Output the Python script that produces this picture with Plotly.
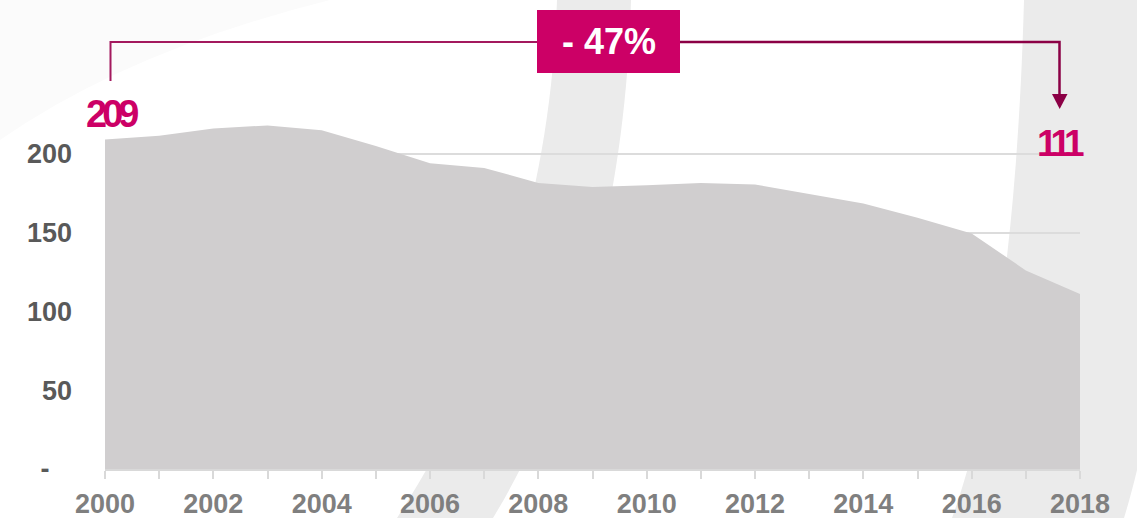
import plotly.graph_objects as go

# ---------------- data ----------------
years = list(range(2000, 2019))
values = [209, 211.5, 216, 218, 215, 205, 194, 191, 181.5, 179, 180, 181.5,
          180.5, 174.5, 168.5, 159.5, 149.5, 126, 111]
y_tickvals = [0, 50, 100, 150, 200]
y_ticktext = ["-\u00a0\u00a0\u00a0", "50", "100", "150", "200"]
x_tickvals = list(range(2000, 2019, 2))
start_label = "209"
end_label = "111"
change_label = "- 47%"

# ---------------- layout geometry ----------------
W, H = 1137, 518
L, R, T, B = 105, 57, 75, 49
PW, PH = W - L - R, H - T - B


def px(x):
    return (x - L) / PW


def py(y):
    return (H - B - y) / PH


MAGENTA = "#cc0066"
DARK = "#8b0045"
FONT = "Arial, Liberation Sans, sans-serif"

fig = go.Figure()
fig.add_trace(go.Scatter(
    x=years, y=values, mode="lines", fill="tozeroy",
    line=dict(width=0, color="#d0cecf"), fillcolor="#d0cecf",
    hoverinfo="skip", showlegend=False,
))

shapes = []
# decorative background watermark
shapes.append(dict(type="path", xref="paper", yref="paper", layer="below",
                   path=f"M{px(0)},{py(0)} L{px(330)},{py(0)} Q{px(130)},{py(50)} {px(0)},{py(140)} Z",
                   fillcolor="#fbfbfb", line=dict(width=0)))
shapes.append(dict(type="path", xref="paper", yref="paper", layer="below",
                   path=(f"M{px(557)},{py(0)} C{px(550)},{py(220)} {px(480)},{py(390)} {px(397)},{py(518)} "
                         f"L{px(493)},{py(518)} C{px(570)},{py(390)} {px(625)},{py(220)} {px(631)},{py(0)} Z"),
                   fillcolor="#ebebeb", line=dict(width=0)))
shapes.append(dict(type="path", xref="paper", yref="paper", layer="below",
                   path=(f"M{px(1024)},{py(0)} C{px(1018)},{py(220)} {px(995)},{py(400)} {px(952)},{py(518)} "
                         f"L{px(1124)},{py(518)} C{px(1160)},{py(400)} {px(1180)},{py(220)} {px(1190)},{py(0)} Z"),
                   fillcolor="#ebebeb", line=dict(width=0)))
# bracket
shapes.append(dict(type="path", xref="paper", yref="paper",
                   path=f"M{px(110.5)},{py(81)} L{px(110.5)},{py(42)} L{px(540)},{py(42)}",
                   line=dict(color="#a3195e", width=2)))
shapes.append(dict(type="path", xref="paper", yref="paper",
                   path=f"M{px(678)},{py(42)} L{px(1059.5)},{py(42)} L{px(1059.5)},{py(96)}",
                   line=dict(color=DARK, width=2.5)))
shapes.append(dict(type="path", xref="paper", yref="paper",
                   path=f"M{px(1052)},{py(94)} L{px(1067.5)},{py(94)} L{px(1059.7)},{py(109)} Z",
                   fillcolor=DARK, line=dict(width=0)))
# box
shapes.append(dict(type="rect", xref="paper", yref="paper",
                   x0=px(537), x1=px(680), y0=py(73), y1=py(10),
                   fillcolor=MAGENTA, line=dict(width=0)))

annotations = [
    dict(xref="paper", yref="paper", x=px(609), y=py(42), xanchor="center", yanchor="middle",
         text=f"<b>{change_label}</b>", showarrow=False,
         font=dict(family=FONT, size=36, color="white")),
    dict(xref="paper", yref="paper", x=px(112), y=py(114), xanchor="center", yanchor="middle",
         text=f"<b><span style='letter-spacing:-5px'>{start_label}</span></b>", showarrow=False,
         font=dict(family=FONT, size=38, color=MAGENTA)),
    dict(xref="paper", yref="paper", x=px(1060), y=py(143), xanchor="center", yanchor="middle",
         text=f"<b><span style='letter-spacing:-5px'>{end_label}</span></b>", showarrow=False,
         font=dict(family=FONT, size=37, color=MAGENTA)),
]

fig.update_layout(
    width=W, height=H,
    margin=dict(l=L, r=R, t=T, b=B, pad=0, autoexpand=False),
    paper_bgcolor="white", plot_bgcolor="rgba(0,0,0,0)",
    shapes=shapes, annotations=annotations,
    showlegend=False,
    xaxis=dict(range=[years[0], years[-1]], tickvals=x_tickvals,
               ticktext=[str(v) for v in x_tickvals],
               showgrid=False, zeroline=False, automargin=False,
               showline=True, linecolor="#d9d9d9", linewidth=2,
               ticks="outside", ticklen=8, tickwidth=1.5, tickcolor="#d9d9d9",
               minor=dict(tickvals=years, ticks="outside", ticklen=8, tickwidth=1.5,
                          tickcolor="#d9d9d9", showgrid=False),
               tickfont=dict(family=FONT, size=27, color="#7f7f7f", weight="bold"),
               ticklabelstandoff=2, fixedrange=True),
    yaxis=dict(range=[0, 250], tickvals=y_tickvals, ticktext=y_ticktext,
               showgrid=True, gridcolor="#dcdcdc", gridwidth=2,
               zeroline=False, showline=False, ticks="", automargin=False,
               tickfont=dict(family=FONT, size=27, color="#595959", weight="bold"),
               ticklabelstandoff=32, fixedrange=True),
)

fig.write_html("out.html")
